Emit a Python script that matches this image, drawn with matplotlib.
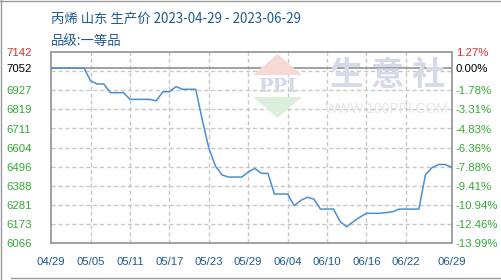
import numpy as np
import pandas as pd
import matplotlib
matplotlib.use("Agg")
import matplotlib.pyplot as plt
import matplotlib.dates as mdates
from matplotlib.patches import Polygon
from matplotlib.lines import Line2D

plt.rcParams['font.family'] = ['Noto Sans CJK SC', 'DejaVu Sans']

title = "丙烯 山东 生产价 2023-04-29 - 2023-06-29"
subtitle = "品级:一等品"

dates = pd.date_range("2023-04-29", "2023-06-29", freq="D")
prices = [7052, 7052, 7052, 7052, 7052, 7052, 6980, 6963, 6963, 6914,
          6914, 6914, 6876, 6876, 6876, 6876, 6868, 6919, 6919, 6948,
          6933, 6933, 6933, 6760, 6600, 6500, 6449, 6437, 6437, 6437,
          6465, 6486, 6458, 6458, 6341, 6341, 6341, 6275, 6305, 6323,
          6312, 6256, 6256, 6256, 6185, 6156, 6185, 6210, 6232, 6232,
          6232, 6236, 6241, 6256, 6256, 6256, 6256, 6450, 6490, 6508,
          6508, 6492]

base_price = 7052
y_min, y_max = 6066, 7142
left_ticks = [6066, 6173, 6281, 6388, 6496, 6604, 6711, 6819, 6927, 7052, 7142]
left_labels = ["6066", "6173", "6281", "6388", "6496", "6604", "6711", "6819", "6927", "7052", "7142"]
right_labels = ["-13.99%", "-12.46%", "-10.94%", "-9.41%", "-7.88%", "-6.36%", "-4.83%",
                "-3.31%", "-1.78%", "0.00%", "1.27%"]
x_tick_labels = ["04/29", "05/05", "05/11", "05/17", "05/23", "05/29", "06/04",
                 "06/10", "06/16", "06/22", "06/29"]

W, H = 502, 280
fig = plt.figure(figsize=(W / 100, H / 100), dpi=100)

# axes geometry (pixels)
ax_l, ax_r, ax_t, ax_b = 51.3, 451.7, 52.3, 242.7
ax = fig.add_axes([ax_l / W, 1 - ax_b / H, (ax_r - ax_l) / W, (ax_b - ax_t) / H])
ax.set_facecolor("none")

# watermark (figure coords, behind grid)
def fx(x): return x / W
def fy(y): return 1 - y / H
fig.patches.append(Polygon([(fx(253), fy(75)), (fx(302), fy(75)), (fx(277.5), fy(54))],
                           closed=True, transform=fig.transFigure, facecolor="#f6d9d5",
                           edgecolor="none", zorder=0))
fig.patches.append(Polygon([(fx(253), fy(97)), (fx(302), fy(97)), (fx(277.5), fy(118))],
                           closed=True, transform=fig.transFigure, facecolor="#dcefdc",
                           edgecolor="none", zorder=0))
fig.text(fx(277.5), fy(87), "PPI", ha="center", va="center", fontsize=14, fontweight="bold",
         color="#d3d8ea", family=["DejaVu Serif"], zorder=0)
fig.text(fx(388), fy(76), "生 意 社", ha="center", va="center", fontsize=24, fontweight="bold",
         color="#d6dae8", zorder=0)
fig.text(fx(387), fy(109), "WWW.100PPI.COM", ha="center", va="center", fontsize=10,
         color="#e6e6e6", family=["Liberation Sans"], zorder=0)

# grid
xnum = mdates.date2num(dates)
x_tick_pos = [xnum[0] + 6 * i for i in range(10)] + [xnum[-1]]
for gy in np.linspace(y_min, y_max, 11)[1:-1]:
    ax.axhline(gy, color="#c8c8c8", lw=1, ls=(0, (3, 2)), zorder=1)
for gx in x_tick_pos[1:-1]:
    ax.axvline(gx, color="#c8c8c8", lw=1, ls=(0, (3, 2)), zorder=1)
ax.axhline(base_price, color="#9a9a9a", lw=1.3, zorder=2)

ax.plot(xnum, prices, color="#4a90d0", lw=1.1, zorder=3)

ax.set_xlim(xnum[0], xnum[-1])
ax.set_ylim(y_min, y_max)
for s in ax.spines.values():
    s.set_color("#9a9a9a")
    s.set_linewidth(1.3)

ax.set_xticks(x_tick_pos)
ax.set_xticklabels(x_tick_labels, family=["Liberation Sans"], fontsize=8.2, color="#1f5a8f")
ax.tick_params(axis="x", length=0, pad=10)

ax.set_yticks(left_ticks)
ax.set_yticklabels(left_labels, family=["Liberation Sans"], fontsize=8.2)
ax.tick_params(axis="y", length=0, pad=32.5)
for lbl, val in zip(ax.get_yticklabels(), left_ticks):
    lbl.set_horizontalalignment("left")
    lbl.set_color("#e03030" if val > base_price else ("#000000" if val == base_price else "#33aa33"))

ax2 = ax.twinx()
ax2.set_ylim(y_min, y_max)
ax2.set_yticks(left_ticks)
ax2.set_yticklabels(right_labels, family=["Liberation Sans"], fontsize=8.2)
ax2.tick_params(axis="y", length=0, pad=3)
for lbl, val in zip(ax2.get_yticklabels(), left_ticks):
    lbl.set_color("#e03030" if val > base_price else ("#000000" if val == base_price else "#33aa33"))
for s in ax2.spines.values():
    s.set_visible(False)

# titles
fig.text(fx(51), fy(19), title, ha="left", va="center", fontsize=9.6, color="#1f5a8f")
fig.text(fx(51), fy(41), subtitle, ha="left", va="center", fontsize=9.6, color="#1f5a8f")

# outer frame lines
fig.lines.append(Line2D([fx(0), fx(502)], [fy(0.8), fy(0.8)], transform=fig.transFigure,
                        color="#9a9a9a", lw=1))
fig.lines.append(Line2D([fx(1.3), fx(1.3)], [fy(0), fy(279)], transform=fig.transFigure,
                        color="#9a9a9a", lw=1))
fig.lines.append(Line2D([fx(11), fx(502)], [fy(278.3), fy(278.3)], transform=fig.transFigure,
                        color="#9a9a9a", lw=1))

fig.savefig("out.png", dpi=100)
